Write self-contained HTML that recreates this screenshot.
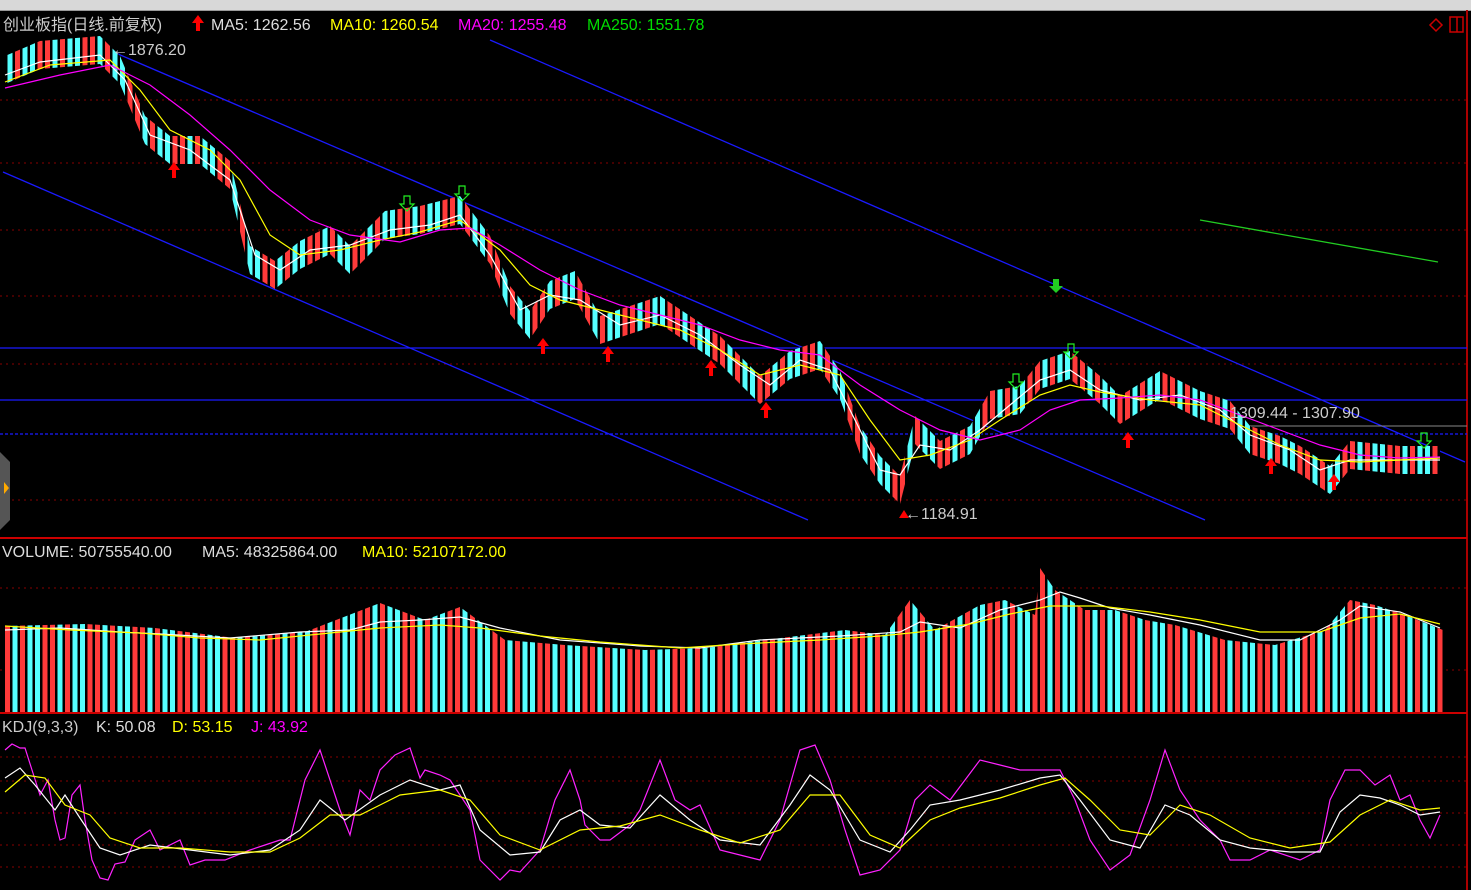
<!DOCTYPE html>
<html><head><meta charset="utf-8"><style>
html,body{margin:0;padding:0;background:#000;width:1471px;height:890px;overflow:hidden}
svg{display:block}
text{font-family:"Liberation Sans","Noto Sans CJK SC",sans-serif;font-size:16px}
.stripes{background:repeating-linear-gradient(90deg,#ff3a3a 0 5px,#000 5px 7.5px,#55ffff 7.5px 12.5px,#000 12.5px 15px,#ff3a3a 15px 20px,#000 20px 22.5px,#55ffff 22.5px 27.5px,#000 27.5px 30px,#55ffff 30px 35px,#000 35px 37.5px,#ff3a3a 37.5px 42.5px,#000 42.5px 45px)}
#vol{position:absolute;left:5px;top:560px;width:1438px;height:152px;
clip-path:polygon(0 66px,80px 64px,150px 68px,230px 78px,300px 72px,375px 43px,420px 60px,455px 47px,500px 80px,560px 85px,640px 90px,700px 88px,760px 80px,840px 70px,880px 75px,905px 40px,930px 70px,975px 45px,1000px 40px,1030px 55px,1035px 8px,1050px 30px,1080px 50px,1110px 50px,1140px 60px,1170px 65px,1220px 80px,1270px 85px,1320px 70px,1345px 40px,1370px 45px,1400px 55px,1438px 70px,1438px 152px,0 152px)}
#cdl{position:absolute;left:0;top:0;width:1471px;height:538px;
clip-path:polygon(5px 56px,40px 41px,100px 36px,120px 56px,145px 116px,170px 136px,200px 136px,230px 161px,250px 246px,275px 261px,300px 241px,330px 226px,350px 246px,385px 211px,420px 206px,460px 196px,490px 236px,510px 286px,530px 311px,550px 281px,575px 271px,600px 316px,630px 306px,660px 296px,690px 316px,720px 336px,760px 376px,790px 351px,820px 341px,840px 371px,860px 426px,880px 456px,900px 476px,915px 416px,940px 441px,970px 426px,990px 391px,1020px 386px,1040px 361px,1070px 351px,1100px 376px,1120px 396px,1160px 371px,1200px 391px,1230px 401px,1250px 426px,1280px 436px,1300px 446px,1330px 466px,1350px 441px,1400px 446px,1440px 446px,1440px 474px,1400px 474px,1350px 469px,1330px 494px,1300px 474px,1280px 464px,1250px 454px,1230px 429px,1200px 419px,1160px 399px,1120px 424px,1100px 404px,1070px 379px,1040px 389px,1020px 414px,990px 419px,970px 454px,940px 469px,915px 444px,900px 504px,880px 484px,860px 454px,840px 399px,820px 369px,790px 379px,760px 404px,720px 364px,690px 344px,660px 324px,630px 334px,600px 344px,575px 299px,550px 309px,530px 339px,510px 314px,490px 264px,460px 224px,420px 234px,385px 239px,350px 274px,330px 254px,300px 269px,275px 289px,250px 274px,230px 189px,200px 164px,170px 164px,145px 144px,120px 84px,100px 64px,40px 69px,5px 84px)}
</style></head><body>
<div style="position:absolute;left:0;top:0;width:1471px;height:10px;background:#d8d8d8;border-bottom:1px solid #999"></div>
<svg width="1471" height="890" style="position:absolute;left:0;top:0">
<line x1="1467" y1="10" x2="1467" y2="890" stroke="#a00" stroke-width="2"/>
<line x1="0" y1="538" x2="1467" y2="538" stroke="#c00" stroke-width="2"/>
<line x1="0" y1="713" x2="1467" y2="713" stroke="#c00" stroke-width="2"/>
<g stroke="#800" stroke-dasharray="2 4">
<line x1="0" y1="100" x2="1467" y2="100"/><line x1="0" y1="163" x2="1467" y2="163"/><line x1="0" y1="230" x2="1467" y2="230"/><line x1="0" y1="296" x2="1467" y2="296"/><line x1="0" y1="364" x2="1467" y2="364"/><line x1="0" y1="500" x2="1467" y2="500"/>
<line x1="0" y1="588" x2="1467" y2="588"/><line x1="0" y1="670" x2="1467" y2="670"/>
<line x1="0" y1="757" x2="1467" y2="757"/><line x1="0" y1="781" x2="1467" y2="781"/><line x1="0" y1="813" x2="1467" y2="813"/><line x1="0" y1="845" x2="1467" y2="845"/><line x1="0" y1="867" x2="1467" y2="867"/>
</g>
<g stroke="#1a1aff" stroke-width="1.3">
<line x1="3" y1="172" x2="808" y2="520"/><line x1="90" y1="42" x2="1205" y2="520"/><line x1="490" y1="40" x2="1465" y2="462"/>
<line x1="0" y1="348" x2="1467" y2="348"/><line x1="0" y1="400" x2="1467" y2="400"/><line x1="0" y1="434" x2="1467" y2="434" stroke-dasharray="3 2"/>
</g>
<line x1="1225" y1="426" x2="1467" y2="426" stroke="#888"/>
<line x1="1200" y1="220" x2="1438" y2="262" stroke="#22cc22" stroke-width="1.3"/>
</svg>
<div id="cdl" class="stripes"></div>
<div id="vol" class="stripes"></div>
<svg width="1471" height="890" style="position:absolute;left:0;top:0">
<polyline fill="none" stroke="#fff" stroke-width="1.2" points="5,75 40,62 100,55 125,80 150,135 190,150 230,180 255,255 280,270 310,250 350,245 390,230 430,225 460,215 490,255 520,310 550,295 580,300 620,325 660,315 700,335 740,365 770,385 800,360 830,370 855,420 880,470 900,475 920,445 950,450 980,430 1010,405 1040,380 1070,370 1100,390 1140,400 1180,395 1220,410 1250,435 1290,450 1320,470 1350,460 1400,460 1440,460"/>
<polyline fill="none" stroke="#ffff00" stroke-width="1.2" points="5,82 50,65 110,60 140,90 170,130 210,150 240,180 270,235 300,255 340,250 380,240 420,232 460,220 500,250 530,285 560,300 600,310 640,320 680,330 720,350 760,375 800,365 840,375 870,420 900,460 930,455 970,440 1000,420 1040,395 1070,385 1100,392 1150,400 1200,405 1240,425 1280,445 1320,460 1360,462 1440,458"/>
<polyline fill="none" stroke="#ff00ff" stroke-width="1.2" points="5,88 60,75 110,65 150,85 190,115 230,150 270,190 310,220 350,235 400,242 440,230 470,228 500,245 540,270 580,290 620,305 660,315 700,325 740,340 780,350 820,355 860,385 900,410 940,430 980,440 1020,430 1050,410 1080,400 1120,398 1160,395 1200,400 1240,415 1280,430 1320,445 1360,455 1400,458 1440,457"/>
<g fill="#f00">
<polygon points="174,162 168,170 172,170 172,178 176,178 176,170 180,170"/>
<polygon points="543,338 537,346 541,346 541,354 545,354 545,346 549,346"/>
<polygon points="608,346 602,354 606,354 606,362 610,362 610,354 614,354"/>
<polygon points="711,360 705,368 709,368 709,376 713,376 713,368 717,368"/>
<polygon points="766,402 760,410 764,410 764,418 768,418 768,410 772,410"/>
<polygon points="1128,432 1122,440 1126,440 1126,448 1130,448 1130,440 1134,440"/>
<polygon points="1271,458 1265,466 1269,466 1269,474 1273,474 1273,466 1277,466"/>
<polygon points="1334,474 1328,482 1332,482 1332,490 1336,490 1336,482 1340,482"/>
<polygon points="198,15 192,23 196,23 196,31 200,31 200,23 204,23"/>
<polygon points="904,510 899,518 909,518"/>
</g>
<g fill="none" stroke="#22ee22" stroke-width="1.2">
<polygon points="404,196 410,196 410,204 414,204 407,211 400,204 404,204"/>
<polygon points="459,186 465,186 465,194 469,194 462,201 455,194 459,194"/>
<polygon points="1013,374 1019,374 1019,382 1023,382 1016,389 1009,382 1013,382"/>
<polygon points="1068,344 1074,344 1074,352 1078,352 1071,359 1064,352 1068,352"/>
<polygon points="1421,433 1427,433 1427,441 1431,441 1424,448 1417,441 1421,441"/>
</g>
<polygon points="1053,279 1059,279 1059,286 1063,286 1056,293 1049,286 1053,286" fill="#22cc22"/>
<text x="3" y="30" fill="#ccc">创业板指(日线.前复权)</text>
<text x="211" y="30" fill="#ddd">MA5: 1262.56</text>
<text x="330" y="30" fill="#ffff00">MA10: 1260.54</text>
<text x="458" y="30" fill="#ff00ff">MA20: 1255.48</text>
<text x="587" y="30" fill="#00dd00">MA250: 1551.78</text>
<text x="112" y="55" fill="#ccc">←1876.20</text>
<text x="905" y="519" fill="#ccc">←1184.91</text>
<text x="1230" y="418" fill="#ccc">1309.44 - 1307.90</text>
<text x="2" y="557" fill="#ddd">VOLUME: 50755540.00</text>
<text x="202" y="557" fill="#ddd">MA5: 48325864.00</text>
<text x="362" y="557" fill="#ffff00">MA10: 52107172.00</text>
<text x="2" y="732" fill="#ccc">KDJ(9,3,3)</text>
<text x="96" y="732" fill="#ddd">K: 50.08</text>
<text x="172" y="732" fill="#ffff00">D: 53.15</text>
<text x="251" y="732" fill="#ff00ff">J: 43.92</text>
<polygon points="1436,19 1442,25 1436,31 1430,25" fill="none" stroke="#c00" stroke-width="1.5"/>
<rect x="1450" y="17" width="13" height="15" fill="none" stroke="#c00" stroke-width="1.5"/><line x1="1457" y1="17" x2="1457" y2="32" stroke="#c00" stroke-width="1.5"/>
<path d="M0,452 L10,462 L10,520 L0,530 Z" fill="#555"/><polygon points="4,482 9,488 4,494" fill="#fa0"/>
<polyline fill="none" stroke="#fff" stroke-width="1.2" points="5,630 60,628 120,632 160,634 230,638 300,632 350,630 380,622 420,620 460,617 500,628 560,640 640,646 700,648 760,640 840,636 900,632 920,622 960,628 1000,610 1040,600 1060,592 1080,598 1110,608 1150,615 1200,625 1260,640 1300,640 1340,620 1360,606 1400,612 1440,628"/>
<polyline fill="none" stroke="#ffff00" stroke-width="1.2" points="5,626 70,630 140,633 200,638 260,640 320,634 380,628 440,625 480,628 540,636 600,642 680,648 740,644 820,640 880,636 920,632 970,624 1010,614 1050,606 1100,606 1150,612 1200,620 1260,632 1320,632 1360,618 1400,614 1440,624"/>
<polyline fill="none" stroke="#ff22ff" stroke-width="1.2" points="5,750 12,744 20,748 25,748 32,770 40,795 48,780 55,820 60,840 65,838 72,795 80,785 85,820 92,860 100,878 108,880 115,864 125,862 135,840 150,830 160,850 180,840 190,865 205,860 225,860 250,850 265,845 280,840 290,840 305,780 320,750 340,810 350,835 360,790 370,800 380,770 395,755 410,748 420,778 425,770 440,775 450,780 470,810 480,860 500,880 510,870 520,872 540,850 555,800 570,770 580,800 585,825 600,840 610,840 630,825 640,810 660,760 675,800 690,810 700,805 720,850 740,855 760,860 780,820 800,750 815,745 830,780 845,830 860,875 880,870 900,850 915,800 930,785 950,800 980,760 1000,765 1020,770 1040,770 1060,770 1075,800 1090,840 1110,870 1130,855 1150,800 1165,750 1180,790 1200,820 1220,840 1230,860 1250,860 1270,850 1300,860 1320,850 1330,800 1345,770 1360,770 1375,785 1390,775 1400,800 1410,795 1420,820 1430,838 1440,815"/>
<polyline fill="none" stroke="#fff" stroke-width="1.2" points="5,778 20,768 35,785 55,810 65,795 80,818 100,848 120,855 150,845 190,850 230,855 270,850 300,830 320,800 345,820 380,795 410,780 440,790 460,785 480,830 510,855 540,852 560,820 580,810 600,825 630,828 660,795 690,820 720,840 760,845 790,805 810,775 830,790 860,840 890,852 910,830 930,805 960,800 1000,790 1040,778 1060,775 1080,800 1110,840 1140,848 1165,805 1190,815 1220,840 1250,848 1290,852 1320,852 1340,812 1360,795 1380,798 1400,805 1420,815 1440,812"/>
<polyline fill="none" stroke="#ffff00" stroke-width="1.2" points="5,792 25,775 45,778 65,805 90,815 110,838 140,848 180,848 230,852 270,852 300,838 330,815 360,815 400,795 440,790 470,800 500,835 540,850 580,830 620,826 660,815 700,830 740,843 780,830 810,795 840,795 870,835 900,848 930,820 960,808 1000,798 1040,785 1065,778 1090,800 1120,830 1150,835 1180,805 1210,815 1250,838 1290,848 1330,842 1360,815 1390,800 1420,810 1440,808"/>
</svg>
</body></html>
